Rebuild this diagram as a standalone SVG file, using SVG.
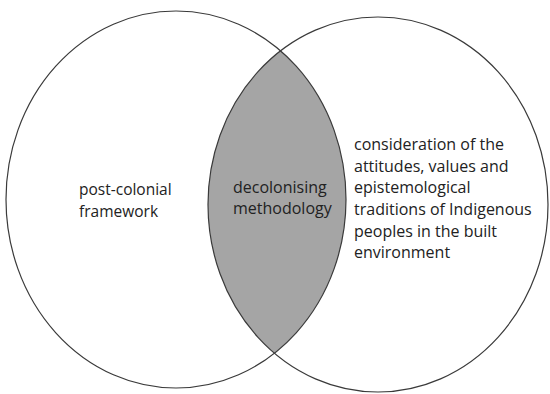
<svg xmlns="http://www.w3.org/2000/svg" width="550" height="394" viewBox="0 0 550 394">
<style>
.c{fill:none;stroke:#3a3a3a;stroke-width:1.2}
.t{font-family:"Open Sans",Lato,sans-serif;font-size:16px;fill:#222}
.s{font-size:15.5px}
</style>
<defs>
<clipPath id="lc"><ellipse cx="176" cy="199.5" rx="170" ry="188.5"/></clipPath>
</defs>
<rect width="550" height="394" fill="#fff"/>
<g id="intersection">
<ellipse cx="378" cy="204.5" rx="170" ry="187.5" fill="#a5a5a5" clip-path="url(#lc)"/>
</g>
<g id="left">
<ellipse class="c" cx="176" cy="199.5" rx="170" ry="188.5"/>
<text class="t s" x="79" y="195">post-colonial</text>
<text class="t s" x="79" y="216.5">framework</text>
</g>
<g id="right">
<ellipse class="c" cx="378" cy="204.5" rx="170" ry="187.5"/>
<text class="t" x="354" y="150">consideration of the</text>
<text class="t" x="354" y="171.7">attitudes, values and</text>
<text class="t" x="354" y="193.4">epistemological</text>
<text class="t" x="354" y="215">traditions of Indigenous</text>
<text class="t" x="354" y="236.7">peoples in the built</text>
<text class="t" x="354" y="258.4">environment</text>
</g>
<g id="center">
<text class="t" x="233" y="192.5">decolonising</text>
<text class="t" x="233" y="214">methodology</text>
</g>
</svg>
